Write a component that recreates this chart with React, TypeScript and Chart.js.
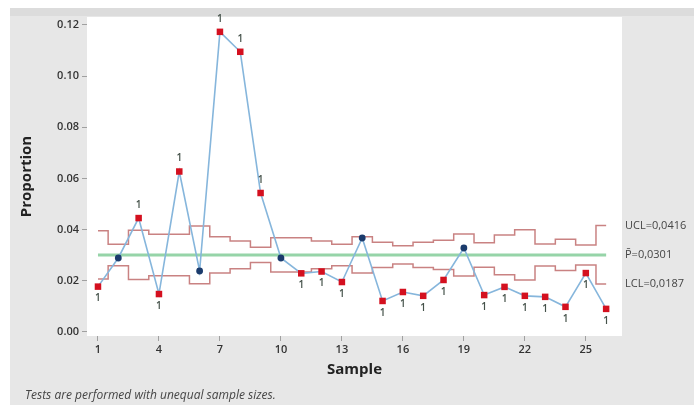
import React, { useEffect, useRef } from 'react';
import { Chart, registerables } from 'chart.js';

Chart.register(...registerables);

const SAMPLES = [1, 2, 3, 4, 5, 6, 7, 8, 9, 10, 11, 12, 13, 14, 15, 16, 17, 18, 19, 20, 21, 22, 23, 24, 25, 26];
const PROPORTION = [0.0177, 0.0289, 0.0445, 0.0148, 0.0627, 0.0238, 0.1173, 0.1095, 0.0543, 0.0289, 0.0229, 0.0236, 0.0195, 0.0367, 0.0121, 0.0156, 0.0141, 0.0203, 0.0328, 0.0144, 0.0176, 0.0141, 0.0137, 0.0098, 0.0230, 0.0090];
const UCL = [0.0395, 0.0343, 0.0397, 0.0382, 0.0382, 0.0414, 0.0372, 0.0355, 0.0331, 0.0368, 0.0368, 0.0355, 0.0343, 0.0372, 0.0350, 0.0337, 0.0350, 0.0358, 0.0383, 0.0349, 0.0379, 0.0399, 0.0344, 0.0362, 0.0340, 0.0416];
const LCL = [0.0207, 0.0259, 0.0205, 0.0220, 0.0220, 0.0188, 0.0230, 0.0247, 0.0271, 0.0234, 0.0234, 0.0247, 0.0259, 0.0230, 0.0252, 0.0265, 0.0252, 0.0244, 0.0219, 0.0253, 0.0223, 0.0203, 0.0258, 0.0240, 0.0262, 0.0187];
const CENTER_LINE = 0.0301;
const TEST_FAILED = [1, 0, 1, 1, 1, 0, 1, 1, 1, 0, 1, 1, 1, 0, 1, 1, 1, 1, 0, 1, 1, 1, 1, 1, 1, 1];
const LIMIT_LABELS = ['UCL=0,0416', 'P\u0304=0,0301', 'LCL=0,0187'];
const LIMIT_LABEL_VALUES = [0.0416, 0.0301, 0.0187];
const X_TICKS = [1, 4, 7, 10, 13, 16, 19, 22, 25];
const Y_TICKS = [0, 0.02, 0.04, 0.06, 0.08, 0.1, 0.12];
const X_TITLE = 'Sample';
const Y_TITLE = 'Proportion';
const FOOTNOTE = 'Tests are performed with unequal sample sizes.';

const FONT = '"Open Sans", "DejaVu Sans", sans-serif';

const bgPlugin = {
  id: 'bg',
  beforeDraw(chart: any) {
    const { ctx, width, height, chartArea } = chart;
    ctx.save();
    ctx.fillStyle = '#ffffff';
    ctx.fillRect(0, 0, width, height);
    ctx.fillStyle = '#e7e7e7';
    ctx.fillRect(10, 8, width - 10, height - 8);
    ctx.fillStyle = '#dcdcdc';
    ctx.fillRect(10, 8, width - 10, 8);
    ctx.fillStyle = '#ffffff';
    ctx.fillRect(chartArea.left, chartArea.top, chartArea.right - chartArea.left, chartArea.bottom - chartArea.top);
    ctx.restore();
  },
};

const annotPlugin = {
  id: 'annot',
  afterDatasetsDraw(chart: any) {
    const { ctx, scales, chartArea } = chart;
    const xs = scales.x;
    const ys = scales.y;
    ctx.save();
    ctx.font = `600 10px ${FONT}`;
    ctx.fillStyle = '#45524a';
    ctx.textAlign = 'center';
    ctx.textBaseline = 'middle';
    SAMPLES.forEach((s, i) => {
      if (!TEST_FAILED[i]) return;
      const px = xs.getPixelForValue(s);
      const py = ys.getPixelForValue(PROPORTION[i]);
      const above = PROPORTION[i] > UCL[i];
      ctx.fillText('1', px, above ? py - 13 : py + 12);
    });
    ctx.font = `11px ${FONT}`;
    ctx.fillStyle = '#454545';
    ctx.textAlign = 'left';
    LIMIT_LABELS.forEach((t, i) => {
      ctx.fillText(t, chartArea.right + 3, ys.getPixelForValue(LIMIT_LABEL_VALUES[i]));
    });
    ctx.font = `italic 12px ${FONT}`;
    ctx.fillStyle = '#454545';
    ctx.fillText(FOOTNOTE, 25, 396);
    ctx.restore();
  },
};

export default function App() {
  const ref = useRef<HTMLCanvasElement>(null);
  useEffect(() => {
    if (!ref.current) return;
    const limitStyle = {
      borderColor: '#c98282',
      borderWidth: 1.5,
      pointRadius: 0,
      stepped: 'middle' as const,
      fill: false,
    };
    const chart = new Chart(ref.current, {
      type: 'line',
      data: {
        datasets: [
          {
            label: 'Proportion',
            data: SAMPLES.map((s, i) => ({ x: s, y: PROPORTION[i] })),
            borderColor: '#86b6dc',
            borderWidth: 1.6,
            pointStyle: TEST_FAILED.map((f) => (f ? 'rect' : 'circle')) as any,
            pointRadius: TEST_FAILED.map((f) => (f ? 4.6 : 3.4)),
            pointBackgroundColor: TEST_FAILED.map((f) => (f ? '#d4101f' : '#1b3b6c')),
            pointBorderColor: TEST_FAILED.map((f) => (f ? '#d4101f' : '#1b3b6c')),
            pointBorderWidth: 0,
            order: 0,
          },
          {
            label: 'UCL',
            data: SAMPLES.map((s, i) => ({ x: s, y: UCL[i] })),
            ...limitStyle,
            order: 1,
          },
          {
            label: 'LCL',
            data: SAMPLES.map((s, i) => ({ x: s, y: LCL[i] })),
            ...limitStyle,
            order: 1,
          },
          {
            label: 'Center',
            data: SAMPLES.map((s) => ({ x: s, y: CENTER_LINE })),
            borderColor: '#96d4a8',
            borderWidth: 3,
            pointRadius: 0,
            order: 2,
          },
        ],
      },
      options: {
        responsive: false,
        animation: false,
        layout: { padding: { left: 0, top: 17, right: 72, bottom: 22 } },
        plugins: { legend: { display: false }, tooltip: { enabled: false } },
        scales: {
          x: {
            type: 'linear',
            min: 0.46,
            max: 26.78,
            afterBuildTicks: (scale: any) => {
              scale.ticks = X_TICKS.map((v) => ({ value: v }));
            },
            afterFit: (scale: any) => {
              scale.height = 47;
            },
            ticks: {
              callback: (v: any) => String(v),
              color: '#333333',
              font: { family: FONT, size: 11, weight: 600 },
              padding: 2,
              maxRotation: 0,
            },
            grid: { drawOnChartArea: false, drawTicks: true, tickLength: 5, color: '#a0a0a0' },
            border: { display: false },
            title: {
              display: true,
              text: X_TITLE,
              color: '#222222',
              font: { family: FONT, size: 15, weight: 'bold' },
              padding: { top: 0, bottom: 4 },
            },
          },
          y: {
            type: 'linear',
            min: -0.0016,
            max: 0.1231,
            afterBuildTicks: (scale: any) => {
              scale.ticks = Y_TICKS.map((v) => ({ value: v }));
            },
            afterFit: (scale: any) => {
              scale.width = 87;
            },
            ticks: {
              callback: (v: any) => Number(v).toFixed(2),
              color: '#333333',
              font: { family: FONT, size: 11, weight: 600 },
              padding: 3,
            },
            grid: { drawOnChartArea: false, drawTicks: true, tickLength: 5, color: '#a0a0a0' },
            border: { display: false },
            title: {
              display: true,
              text: Y_TITLE,
              color: '#222222',
              font: { family: FONT, size: 15, weight: 'bold' },
              padding: { top: 18, bottom: 4 },
            },
          },
        },
      },
      plugins: [bgPlugin, annotPlugin],
    });
    return () => chart.destroy();
  }, []);
  return (
    <div style={{ position: 'fixed', left: 0, top: 0, width: 694, height: 405 }}>
      <canvas ref={ref} width={694} height={405} />
    </div>
  );
}
